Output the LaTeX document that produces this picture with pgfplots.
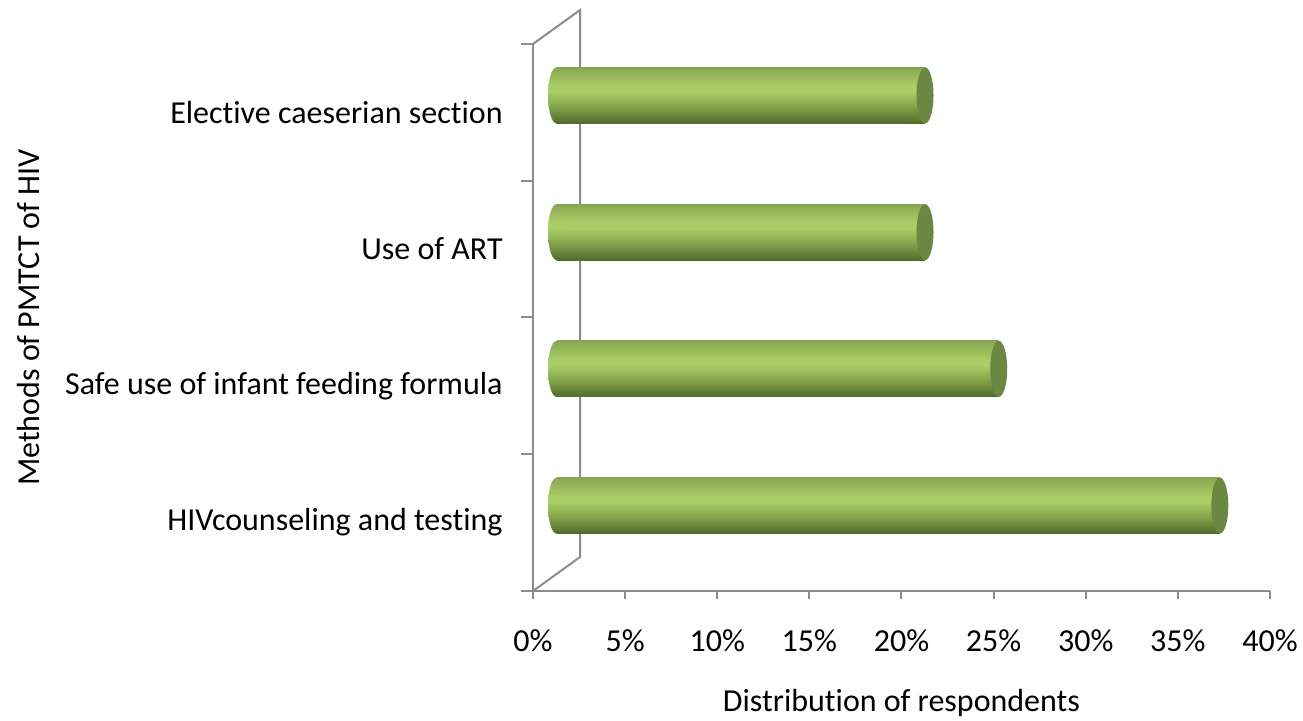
\documentclass[border=0pt]{standalone}
\usepackage{fontspec}
\setmainfont{Carlito}[Ligatures={NoCommon}]
\usepackage{pgfplots}
\pgfplotsset{compat=1.18}

\definecolor{axgray}{HTML}{8C8C8C}
\definecolor{cyltop}{HTML}{88A652}
\definecolor{cyllight}{HTML}{AACE67}
\definecolor{cylmid}{HTML}{7A9845}
\definecolor{cylbot}{HTML}{506A2B}
\definecolor{cylcap}{HTML}{6B8741}

% cylinder body; the part 25bp..75bp is what fills the path
\pgfdeclareverticalshading{cylshade}{100bp}{color(0bp)=(cylbot); color(25bp)=(cylbot); color(37bp)=(cylmid); color(53bp)=(cyllight); color(58bp)=(cyllight); color(75bp)=(cyltop); color(100bp)=(cyltop)}

\pgfdeclareplotmark{cylleft}{%
  \pgfpathellipse{\pgfpointorigin}{\pgfqpoint{4.25pt}{0pt}}{\pgfqpoint{0pt}{14pt}}%
  \pgfshadepath{cylshade}{0}\pgfusepath{}}
\pgfdeclareplotmark{cylright}{%
  \pgfpathellipse{\pgfpointorigin}{\pgfqpoint{4.25pt}{0pt}}{\pgfqpoint{0pt}{14pt}}%
  \pgfusepathqfill}

\pgfplotsset{cyl/.style={xbar, bar width=0.41, draw=none, shading=cylshade}}

\begin{document}
\begin{tikzpicture}
\useasboundingbox (0,0) rectangle (651.5pt,360.5pt);

% front axis: ticks, labels and the 3-D wall
\begin{axis}[
    at={(266.5pt,65pt)}, anchor=south west,
    scale only axis, width=368.5pt, height=273.5pt,
    xmin=0, xmax=40, ymin=0, ymax=4,
    axis x line=bottom, axis y line=left,
    axis line style={-, axgray, line width=1pt},
    xtick={0,5,...,40},
    xticklabels={0\%,5\%,10\%,15\%,20\%,25\%,30\%,35\%,40\%},
    ytick={0.5,1.5,2.5,3.5},
    yticklabels={HIVcounseling and testing, Safe use of infant feeding formula, Use of ART, Elective caeserian section},
    minor ytick={0,1,2,3,4},
    tick align=outside,
    major tick length=4pt, minor tick length=6pt,
    tick style={axgray, line width=1pt},
    every major y tick/.append style={draw=none},
    tick label style={font=\fontsize{16}{19}\selectfont},
    xticklabel style={inner sep=0pt, yshift=-15pt},
    yticklabel style={inner sep=0pt, xshift=-11pt},
    xlabel={Distribution of respondents},
    ylabel={Methods of PMTCT of HIV},
    every axis y label/.style={at={(rel axis cs:-0.685,0.5)}, rotate=90, anchor=center,
        font=\fontsize{16}{19}\selectfont},
    every axis x label/.style={at={(rel axis cs:0.5,-0.205)}, anchor=center,
        font=\fontsize{16}{19}\selectfont},
    clip=false,
]
\draw[axgray, line width=1pt] (axis cs:0,0) -- (axis cs:2.554,0.2486)
    -- (axis cs:2.554,4.2486) -- (axis cs:0,4);
\end{axis}

% bars sit half way into the depth
\begin{axis}[
    at={(266.5pt,65pt)}, anchor=south west,
    scale only axis, width=368.5pt, height=273.5pt,
    xmin=-1.277, xmax=38.723, ymin=-0.1243, ymax=3.8757,
    hide axis, clip=false,
]
\addplot[only marks, mark=cylleft] coordinates {(0,0.5) (0,1.5) (0,2.5) (0,3.5)};
\addplot[cyl] coordinates {(36,0.5)};
\addplot[cyl] coordinates {(24,1.5)};
\addplot[cyl] coordinates {(20,2.5)};
\addplot[cyl] coordinates {(20,3.5)};
\addplot[only marks, mark=cylright, color=cylcap, mark options={fill=cylcap, draw=none}]
    coordinates {(36,0.5) (24,1.5) (20,2.5) (20,3.5)};
\end{axis}
\end{tikzpicture}
\end{document}
